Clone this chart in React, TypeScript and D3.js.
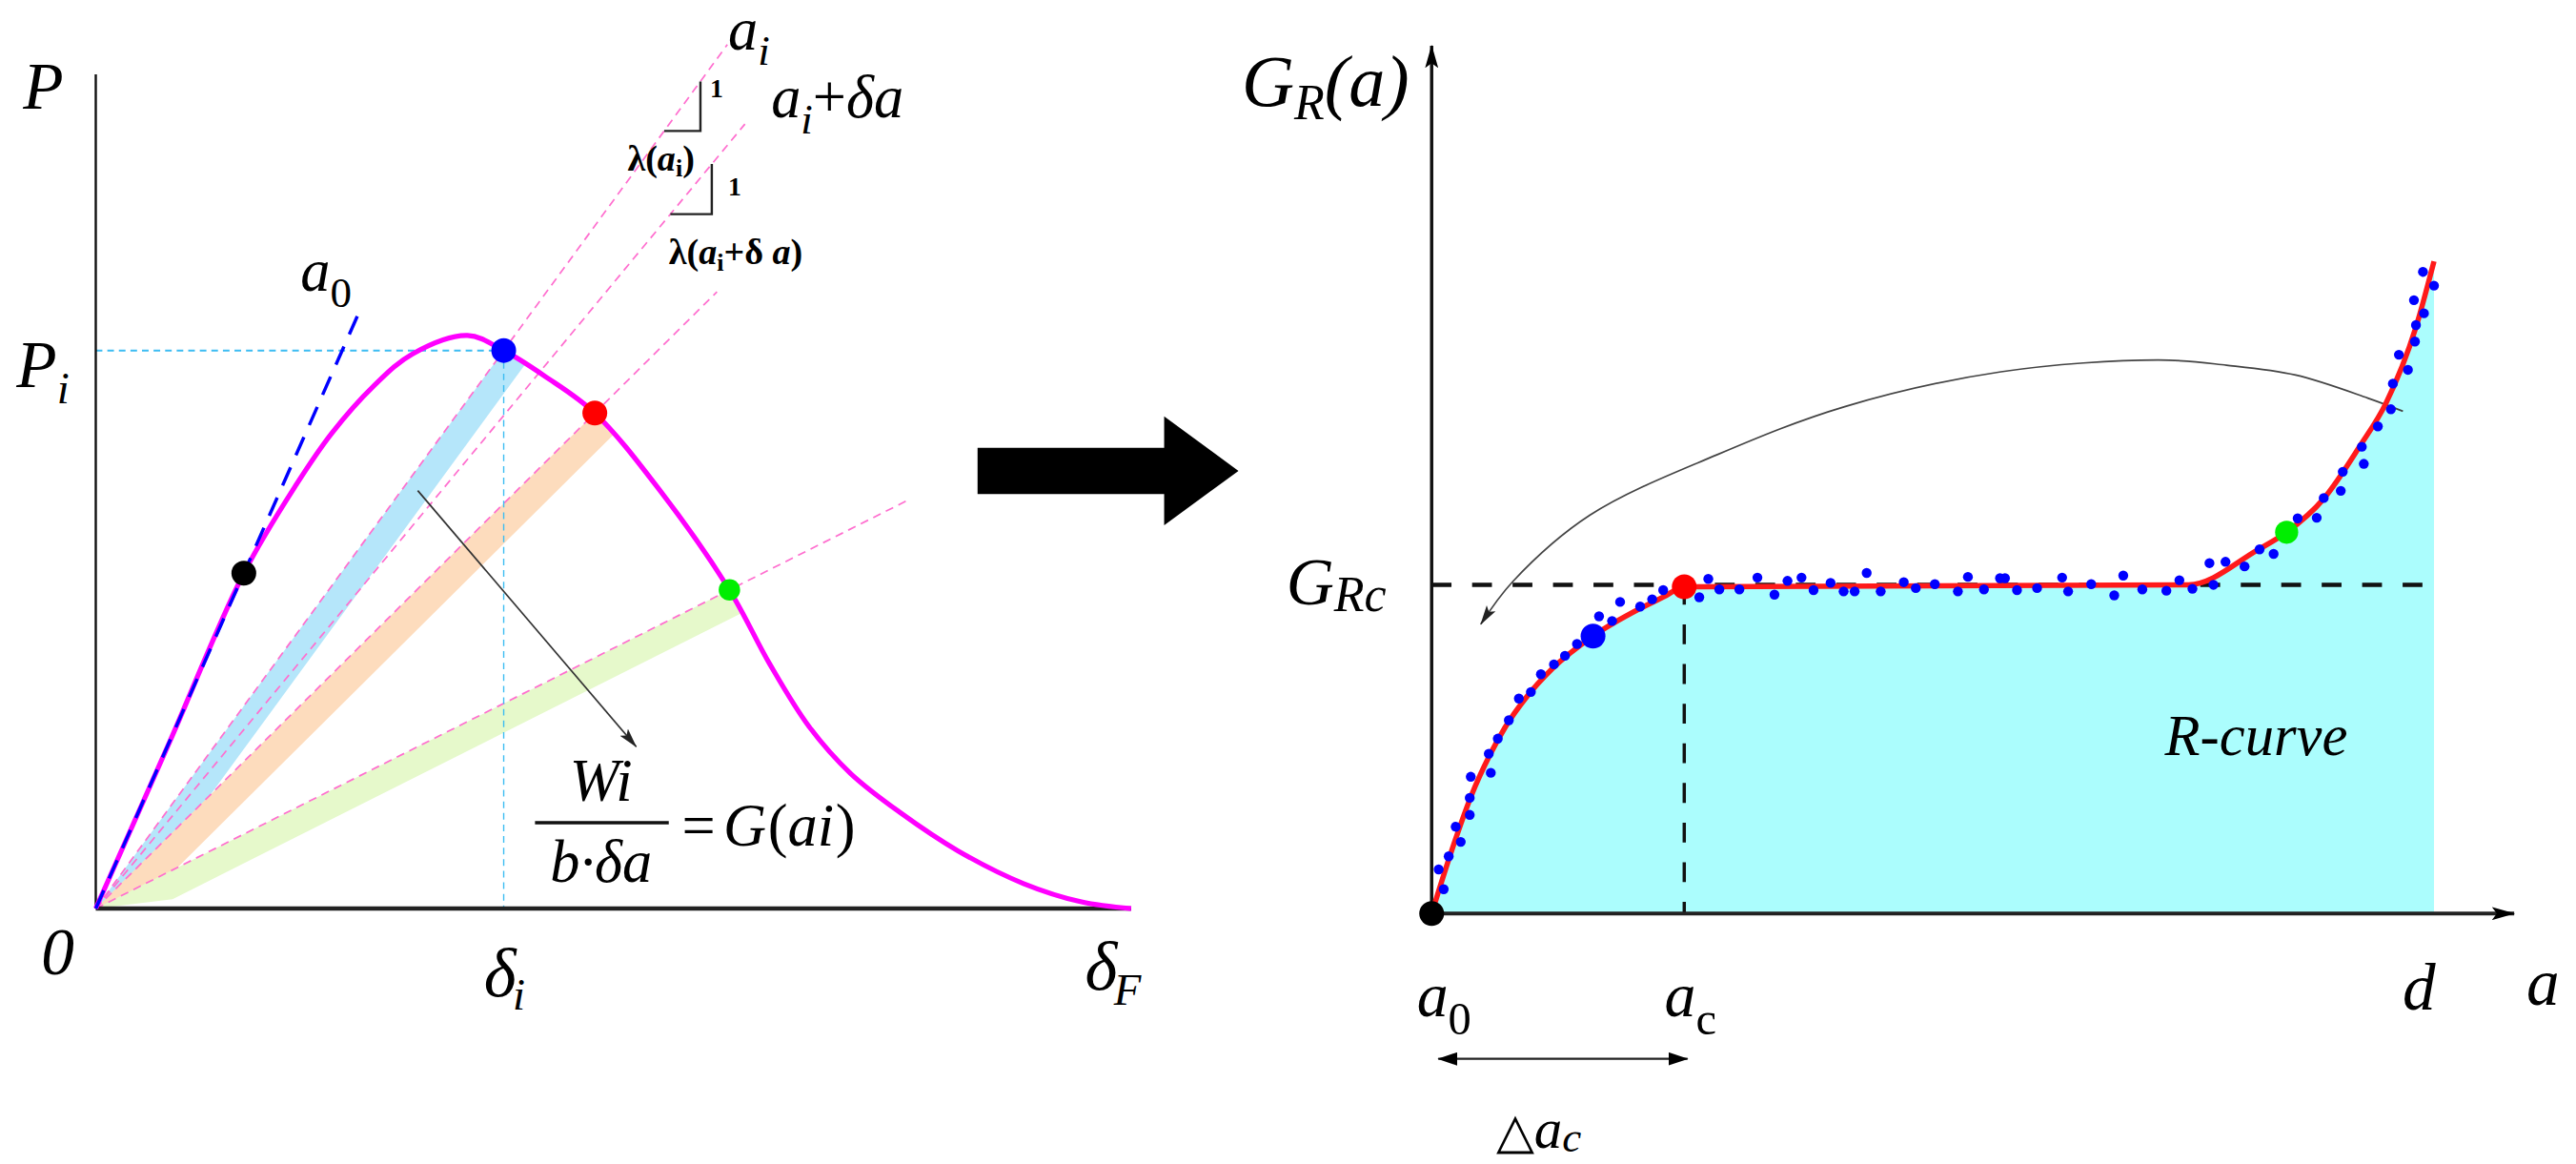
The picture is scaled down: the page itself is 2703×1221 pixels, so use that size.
import * as d3 from "d3";

// drawing units (the picture is scaled up to 2703 x 1221)
const W = 1560;
const H = 704.6;
const serif = "'Liberation Serif', 'Times New Roman', serif";

// ---- left panel: load P vs displacement delta ----
const loadDelta = [0, 0.7, 1.43, 1.93, 2.28, 2.68, 3.06, 3.59, 3.94, 4.34, 4.82, 5.45, 6.12, 6.51, 6.89, 7.29, 7.77, 8.33, 8.96, 9.52, 10];
const loadP = [0, 1.96, 4.02, 5.07, 5.7, 6.26, 6.65, 6.87, 6.69, 6.38, 5.94, 5.01, 3.82, 2.93, 2.18, 1.62, 1.15, 0.69, 0.3, 0.08, 0];

const markDelta = [1.43, 3.94, 4.82, 6.12];
const markP = [4.02, 6.69, 5.94, 3.82];
const markColor = ["#000000", "#0000ff", "#ff0000", "#00ee00"];

// secants from origin: point passed through, and where the dashed line stops
const secantDelta = [3.94, 4.28, 4.82, 6.12];
const secantP = [6.69, 6.42, 5.94, 3.82];
const secantEnd = [6.1, 6.27, 6.0, 7.85];

// released-energy strips between a_i and a_i + da
const stripFromDelta = [3.94, 4.82, 6.12];
const stripFromP = [6.69, 5.94, 3.82];
const stripToDelta = [4.15, 5.0, 6.25];
const stripToP = [6.53, 5.68, 3.55];
const stripColor = ["#b5e6fa", "#fddcbd", "#e6f9cb"];

// compliance triangles sitting on secants 0 and 1
const triSecant = [0, 1];
const triFrom = [5.49, 5.55];
const triTo = [5.84, 5.95];

const deltaI = 3.94;
const pI = 6.69;
const a0End = 2.55; // initial-slope line (a0)

// ---- right panel: R-curve ----
const rA = [0, 0.2, 0.4, 0.58, 0.74, 0.95, 1.2, 1.61, 2.08, 2.32, 2.52, 7.55, 8.24, 8.53, 8.9, 9.26, 9.52, 9.82, 10];
const rG = [0, 0.96, 1.81, 2.41, 2.85, 3.3, 3.72, 4.22, 4.64, 4.82, 4.97, 5.0, 5.53, 5.8, 6.31, 7.11, 7.76, 8.92, 9.92];

const rDotA = [0.07, 0.12, 0.17, 0.24, 0.29, 0.38, 0.38, 0.39, 0.57, 0.59, 0.66, 0.77, 0.87, 0.99, 1.09, 1.22, 1.33, 1.45, 1.67, 1.8, 1.88, 2.08, 2.2, 2.31, 2.67, 2.76, 2.87, 3.07, 3.25, 3.42, 3.55, 3.69, 3.81, 3.98, 4.11, 4.22, 4.34, 4.48, 4.71, 4.83, 5.02, 5.25, 5.35, 5.51, 5.67, 5.72, 5.84, 6.04, 6.29, 6.35, 6.58, 6.81, 6.9, 7.09, 7.33, 7.46, 7.59, 7.76, 7.8, 7.92, 8.11, 8.26, 8.4, 8.64, 8.83, 8.9, 9.07, 9.09, 9.3, 9.28, 9.44, 9.57, 9.59, 9.74, 9.65, 9.81, 9.82, 9.9, 9.8, 10.0, 9.89];
const rDotG = [0.67, 0.37, 0.87, 1.32, 1.09, 1.5, 1.76, 2.08, 2.43, 2.14, 2.66, 2.94, 3.27, 3.37, 3.64, 3.79, 3.92, 4.1, 4.52, 4.45, 4.74, 4.67, 4.78, 4.92, 4.81, 5.09, 4.93, 4.93, 5.11, 4.85, 5.06, 5.11, 4.92, 5.03, 4.9, 4.9, 5.18, 4.9, 5.04, 4.95, 5.01, 4.9, 5.12, 4.93, 5.1, 5.1, 4.92, 4.95, 5.11, 4.9, 5.01, 4.84, 5.14, 4.93, 4.91, 5.07, 4.94, 5.33, 5.0, 5.35, 5.28, 5.54, 5.47, 6.01, 6.02, 6.32, 6.43, 6.72, 6.84, 7.1, 7.41, 7.67, 8.06, 8.27, 8.5, 8.7, 8.95, 9.13, 9.33, 9.55, 9.76];

const rMarkA = [0, 1.61, 2.52, 8.53];
const rMarkG = [0, 4.22, 4.97, 5.8];
const rMarkColor = ["#000000", "#0000ff", "#ff0000", "#00ee00"];

const aC = 2.52;
const gRc = 5.0;
const aD = 10;
const aAxisMax = 10.8;
const gAxisMax = 13.2;

// curved arrow from the upper R-curve back to G_Rc
const arcA = [9.69, 9.34, 8.62, 7.93, 7.25, 5.68, 4.12, 2.85, 1.58, 0.81, 0.49];
const arcG = [7.64, 7.84, 8.19, 8.34, 8.42, 8.24, 7.71, 6.98, 6.06, 5.05, 4.4];

export default function App() {
  const xL = d3.scaleLinear().domain([0, 10]).range([58, 685]);
  const yL = d3.scaleLinear().domain([0, 10]).range([550, 45]);
  const xR = d3.scaleLinear().domain([0, 10]).range([867, 1474]);
  const yR = d3.scaleLinear().domain([0, 10]).range([553, 155]);

  const loadPath = d3
    .line<number>()
    .x((i) => xL(loadDelta[i]))
    .y((i) => yL(loadP[i]))
    .curve(d3.curveCatmullRom.alpha(0.5))(d3.range(loadDelta.length));

  const strips = stripFromDelta.map((d0, i) => {
    const A = [d0, stripFromP[i]];
    const B = [stripToDelta[i], stripToP[i]];
    const C = [B[0] - 0.9 * A[0], B[1] - 0.9 * A[1]];
    const pts = [[0, 0], A, B, C].map(([d, p]) => [xL(d), yL(p)]);
    return "M" + pts.map((p) => p.join(",")).join("L") + "Z";
  });

  const a0Slope = markP[0] / markDelta[0];

  const rLine = d3
    .line<number>()
    .x((i) => xR(rA[i]))
    .y((i) => yR(rG[i]))
    .curve(d3.curveMonotoneX)(d3.range(rA.length));
  const rArea = d3
    .area<number>()
    .x((i) => xR(rA[i]))
    .y0(yR(0))
    .y1((i) => yR(rG[i]))
    .curve(d3.curveMonotoneX)(d3.range(rA.length));
  const arcPath = d3
    .line<number>()
    .x((i) => xR(arcA[i]))
    .y((i) => yR(arcG[i]))
    .curve(d3.curveCatmullRom.alpha(0.5))(d3.range(arcA.length));

  const it = { fontStyle: "italic" as const };

  return (
    <svg
      width={2703}
      height={1221}
      viewBox={`0 0 ${W} ${H}`}
      style={{ position: "absolute", left: 0, top: 0, background: "#fff" }}
      fontFamily={serif}
    >
      <defs>
        <marker id="headThin" viewBox="0 0 12 7" refX="11.5" refY="3.5" markerWidth="12" markerHeight="7" markerUnits="userSpaceOnUse" orient="auto">
          <path d="M0,0.3 L12,3.5 L0,6.7 L2.5,3.5 z" fill="#222" />
        </marker>
        <marker id="headAxis" viewBox="0 0 14 8" refX="13.5" refY="4" markerWidth="14" markerHeight="8" markerUnits="userSpaceOnUse" orient="auto-start-reverse">
          <path d="M0,0 L14,4 L0,8 L3,4 z" fill="#000" />
        </marker>
        <marker id="headSmall" viewBox="0 0 12 8" refX="11.5" refY="4" markerWidth="12" markerHeight="8" markerUnits="userSpaceOnUse" orient="auto-start-reverse">
          <path d="M0,0 L12,4 L0,8 z" fill="#000" />
        </marker>
      </defs>

      {/* ---------- left panel ---------- */}
      <g>
        {strips.map((d, i) => (
          <path key={i} d={d} fill={stripColor[i]} />
        ))}
        {secantDelta.map((d, i) => {
          const s = secantP[i] / d;
          const e = secantEnd[i];
          return (
            <line key={i} x1={xL(0)} y1={yL(0)} x2={xL(e)} y2={yL(s * e)} stroke="#ff6fcf" strokeWidth={1} strokeDasharray="5,3.5" />
          );
        })}
        <line x1={xL(0)} y1={yL(pI)} x2={xL(deltaI)} y2={yL(pI)} stroke="#3cbcf2" strokeWidth={1.2} strokeDasharray="4,3" />
        <line x1={xL(deltaI)} y1={yL(pI)} x2={xL(deltaI)} y2={yL(0)} stroke="#3cbcf2" strokeWidth={0.8} strokeDasharray="4,3" />
        {triSecant.map((k, i) => {
          const s = secantP[k] / secantDelta[k];
          const d0 = triFrom[i];
          const d1 = triTo[i];
          return (
            <path key={i} d={`M${xL(d0)},${yL(s * d0)}L${xL(d1)},${yL(s * d0)}L${xL(d1)},${yL(s * d1)}`} fill="none" stroke="#222" strokeWidth={1.4} />
          );
        })}
        <line x1={xL(0)} y1={yL(0)} x2={xL(0)} y2={yL(10)} stroke="#111" strokeWidth={1.4} />
        <line x1={xL(0)} y1={yL(0)} x2={xL(10)} y2={yL(0)} stroke="#222" strokeWidth={2.6} />
        <path d={loadPath ?? ""} fill="none" stroke="#ff00ff" strokeWidth={3} />
        <line x1={xL(0)} y1={yL(0)} x2={xL(a0End)} y2={yL(a0Slope * a0End)} stroke="#0000ff" strokeWidth={2} strokeDasharray="12,8" />
        {markDelta.map((d, i) => (
          <circle key={i} cx={xL(d)} cy={yL(markP[i])} r={i === 3 ? 6.5 : 7.5} fill={markColor[i]} />
        ))}
        <line x1={xL(3.11)} y1={yL(5.01)} x2={xL(5.22)} y2={yL(1.94)} stroke="#333" strokeWidth={1} markerEnd="url(#headThin)" />

        {/* labels */}
        <text x={14} y={66} fontSize={40} {...it}>P</text>
        <text x={10} y={234} fontSize={40} {...it}>
          P<tspan fontSize={27} dy={10}>i</tspan>
        </text>
        <text x={182} y={176} fontSize={36} {...it}>
          a<tspan fontSize={26} dy={10} fontStyle="normal">0</tspan>
        </text>
        <text x={441} y={30} fontSize={36} {...it}>
          a<tspan fontSize={26} dy={9}>i</tspan>
        </text>
        <text x={467} y={71} fontSize={36} {...it}>
          a<tspan fontSize={26} dy={10}>i</tspan>
          <tspan dy={-10} fontStyle="normal">+</tspan>
          <tspan>δa</tspan>
        </text>
        <text x={430} y={59} fontSize={16} fontWeight="bold">1</text>
        <text x={441} y={118} fontSize={16} fontWeight="bold">1</text>
        <text x={380} y={103} fontSize={22} fontWeight="bold">
          λ(<tspan {...it}>a</tspan>
          <tspan fontSize={15} dy={4}>i</tspan>
          <tspan dy={-4}>)</tspan>
        </text>
        <text x={405} y={160} fontSize={22} fontWeight="bold">
          λ(<tspan {...it}>a</tspan>
          <tspan fontSize={15} dy={4}>i</tspan>
          <tspan dy={-4}>+δ </tspan>
          <tspan {...it}>a</tspan>)
        </text>
        <text x={25} y={590} fontSize={40} {...it}>0</text>
        <text x={xL(deltaI) - 12} y={603} fontSize={42} {...it}>
          δ<tspan fontSize={27} dx={-2} dy={8}>i</tspan>
        </text>
        <text x={xL(10) - 28} y={599} fontSize={42} {...it}>
          δ<tspan fontSize={27} dx={-2} dy={9}>F</tspan>
        </text>
        <text x={364} y={485} fontSize={36} textAnchor="middle" {...it}>Wi</text>
        <line x1={324} y1={498} x2={405} y2={498} stroke="#111" strokeWidth={2} />
        <text x={364} y={534} fontSize={36} textAnchor="middle" {...it}>b·δa</text>
        <text y={512} fontSize={36}>
          <tspan x={413}>=</tspan>
          <tspan x={438} {...it}>G</tspan>
          <tspan x={465}>(</tspan>
          <tspan x={477} {...it}>ai</tspan>
          <tspan x={506}>)</tspan>
        </text>
      </g>

      {/* ---------- middle arrow ---------- */}
      <path d="M592,271 L705,271 L705,252 L750,285 L705,318 L705,299 L592,299 Z" fill="#000" />

      {/* ---------- right panel ---------- */}
      <g>
        <path d={rArea ?? ""} fill="#abfdfd" />
        <line x1={xR(0)} y1={yR(gRc)} x2={xR(aD)} y2={yR(gRc)} stroke="#111" strokeWidth={2.6} strokeDasharray="12,12.5" />
        <line x1={xR(aC)} y1={yR(gRc)} x2={xR(aC)} y2={yR(0)} stroke="#111" strokeWidth={2} strokeDasharray="12,12" />
        <line x1={xR(0)} y1={yR(0)} x2={xR(0)} y2={yR(gAxisMax)} stroke="#111" strokeWidth={2} markerEnd="url(#headAxis)" />
        <line x1={xR(0) - 2} y1={yR(0)} x2={xR(aAxisMax)} y2={yR(0)} stroke="#222" strokeWidth={2.4} markerEnd="url(#headAxis)" />
        <path d={arcPath ?? ""} fill="none" stroke="#444" strokeWidth={1} markerEnd="url(#headThin)" />
        <path d={rLine ?? ""} fill="none" stroke="#ff1a1a" strokeWidth={3.2} />
        {rDotA.map((a, i) => (
          <circle key={i} cx={xR(a)} cy={yR(rDotG[i])} r={3} fill="#0000ff" />
        ))}
        {rMarkA.map((a, i) => (
          <circle key={i} cx={xR(a)} cy={yR(rMarkG[i])} r={i === 3 ? 7 : 7.5} fill={rMarkColor[i]} />
        ))}
        <line x1={xR(0) + 4} y1={641} x2={xR(aC) + 2} y2={641} stroke="#222" strokeWidth={1.3} markerStart="url(#headSmall)" markerEnd="url(#headSmall)" />

        {/* labels */}
        <text x={752} y={64} fontSize={44} {...it}>
          G<tspan fontSize={30} dy={8}>R</tspan>
          <tspan dy={-8}>(a)</tspan>
        </text>
        <text x={779} y={366} fontSize={40} {...it}>
          G<tspan fontSize={30} dy={4}>Rc</tspan>
        </text>
        <text x={xR(0) - 9} y={615} fontSize={38} {...it}>
          a<tspan fontSize={28} dy={11} fontStyle="normal">0</tspan>
        </text>
        <text x={xR(aC) - 12} y={615} fontSize={38} {...it}>
          a<tspan fontSize={28} dy={11} fontStyle="normal">c</tspan>
        </text>
        <text x={xR(aD) - 19} y={611} fontSize={40} {...it}>d</text>
        <text x={1530} y={608} fontSize={40} {...it}>a</text>
        <text x={906} y={695} fontSize={30}>
          △<tspan fontSize={34} {...it}>a</tspan>
          <tspan fontSize={26} dy={2} {...it}>c</tspan>
        </text>
        <text x={1311} y={457} fontSize={35} {...it}>R-curve</text>
      </g>
    </svg>
  );
}
